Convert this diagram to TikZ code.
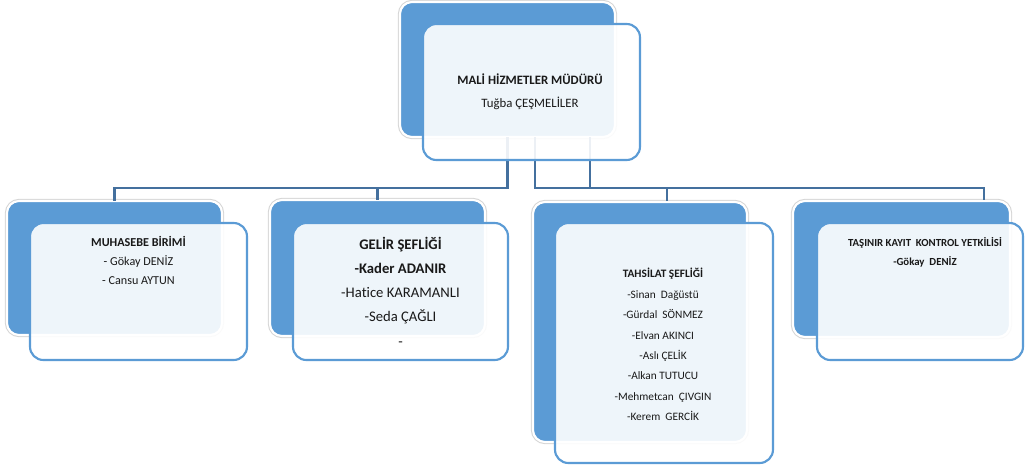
\documentclass[tikz,border=0pt]{standalone}
\usepackage{fontspec}
\setmainfont{Carlito}[Ligatures={NoCommon}]
\definecolor{bblue}{RGB}{91,155,213}
\definecolor{lineblue}{RGB}{68,112,158}
\definecolor{txt}{RGB}{25,25,25}
\tikzset{
  backbox/.style 2 args={rectangle, rounded corners=9pt, fill=bblue, draw=white, line width=1.6pt,
    preaction={draw=black!16, line width=3.2pt},
    minimum width=#1*0.75pt, minimum height=#2*0.75pt, anchor=north west, inner sep=0pt, outer sep=0pt},
  frontbox/.style 2 args={rectangle, rounded corners=10pt, fill=white, fill opacity=0.9, draw=bblue, line width=1.6pt,
    minimum width=#1*0.75pt, minimum height=#2*0.75pt, anchor=north west, inner sep=0pt, outer sep=0pt},
  conn/.style={draw=lineblue, line width=1.6pt},
  lbl/.style={align=center, text=txt, inner sep=0pt}
}
\begin{document}
\begin{tikzpicture}[x=0.75pt,y=-0.75pt]
\useasboundingbox (0,0) rectangle (1026,469);
% back boxes
\node[backbox={215}{135}] (topb) at (400,2) {};
\node[backbox={215}{134}] (c1b) at (7,201) {};
\node[backbox={215}{136}] (c2b) at (270,200) {};
\node[backbox={214}{240}] (c3b) at (533,202) {};
\node[backbox={217}{136}] (c4b) at (793,201) {};
% connectors
\coordinate (s2) at (535,137);
\coordinate (s3) at (590,137);
\coordinate (d3) at (667,201);
\coordinate (d4) at (984,200);
\draw[conn] (topb.south) -- ++(0,51) -| (c1b.north);
\draw[conn] (topb.south) -- ++(0,51) -| (c2b.north);
\draw[conn] (s2) -- ++(0,51) -| (d3);
\draw[conn] (s3) -- ++(0,51) -| (d4);
% front boxes
\node[frontbox={217}{136}] (topf) at (423,24) {};
\node[frontbox={217}{137}] (c1f) at (30,223) {};
\node[frontbox={215}{137}] (c2f) at (293,223) {};
\node[frontbox={218}{240}] (c3f) at (555,223) {};
\node[frontbox={206}{137}] (c4f) at (817,223) {};
% texts
\node[lbl, font=\fontsize{9.6}{17.25}\selectfont] (t0) at (530,91.5)
  {\textbf{MALİ HİZMETLER MÜDÜRÜ}\\Tuğba ÇEŞMELİLER};
\node[lbl, font=\fontsize{9.1}{14.25}\selectfont] (t1) at (138.5,260)
  {\textbf{MUHASEBE BİRİMİ}\\- Gökay DENİZ\\- Cansu AYTUN};
\node[lbl, font=\fontsize{11}{18.2}\selectfont] (t2) at (400.5,291.5)
  {\textbf{GELİR ŞEFLİĞİ}\\\textbf{-Kader ADANIR}\\-Hatice KARAMANLI\\-Seda ÇAĞLI\\-};
\node[lbl, font=\fontsize{8.5}{15.3}\selectfont] (t3) at (663,344.5)
  {\textbf{TAHSİLAT ŞEFLİĞİ}\\-Sinan~ Dağüstü\\-Gürdal~ SÖNMEZ\\-Elvan AKINCI\\-Aslı ÇELİK\\-Alkan TUTUCU\\-Mehmetcan~ ÇIVGIN\\-Kerem~ GERCİK};
\node[lbl, font=\fontsize{8.1}{14.25}\selectfont] (t4) at (925,252.5)
  {\textbf{TAŞINIR KAYIT~ KONTROL YETKİLİSİ}\\\textbf{-Gökay~ DENİZ}};
\end{tikzpicture}
\end{document}
